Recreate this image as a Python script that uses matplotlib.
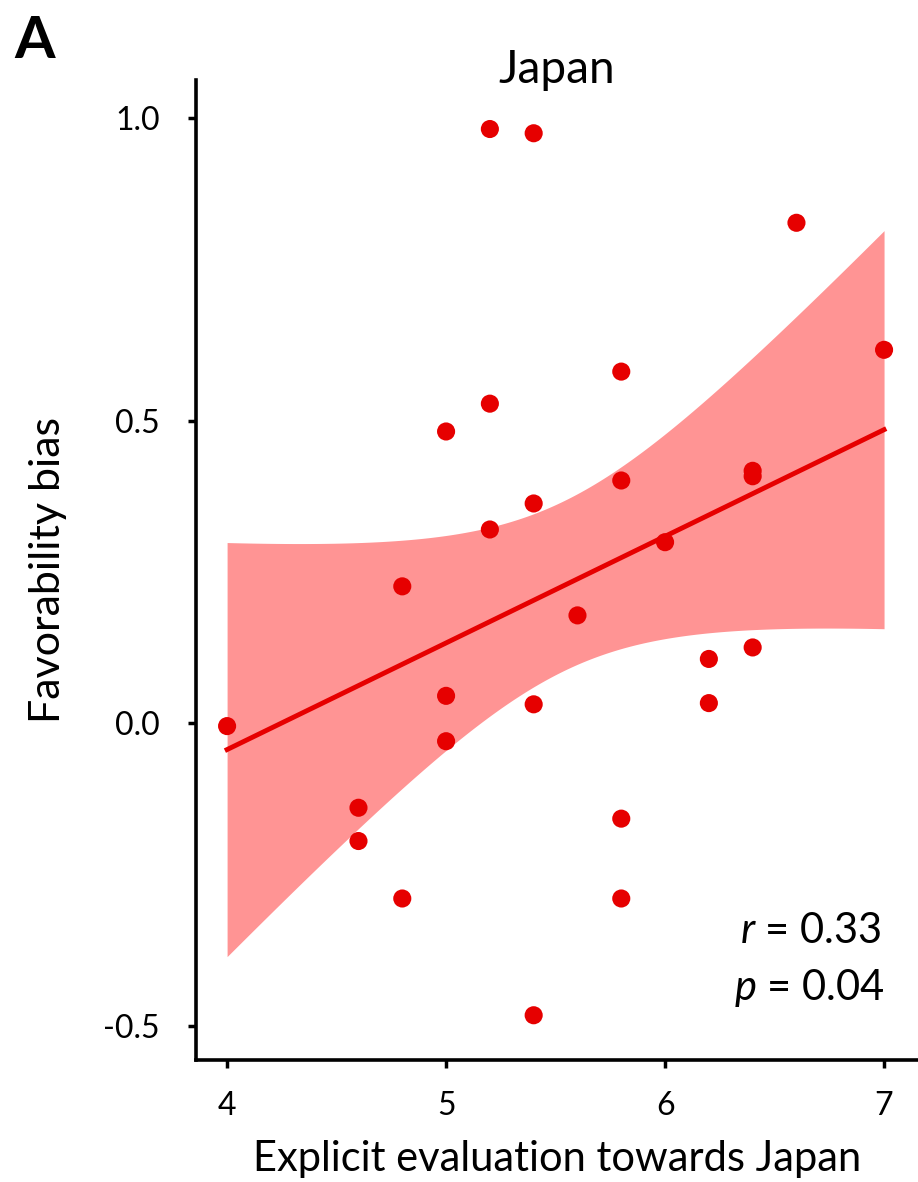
import matplotlib
matplotlib.use('Agg')
import matplotlib.pyplot as plt
import numpy as np

plt.rcParams['font.family'] = ['Lato', 'DejaVu Sans']
plt.rcParams['mathtext.fontset'] = 'custom'
plt.rcParams['mathtext.it'] = 'Lato:italic'
plt.rcParams['mathtext.rm'] = 'Lato'

# explicit evaluation (x) and favorability bias (y)
explicit = [4.0, 4.6, 4.6, 4.8, 4.8, 5.0, 5.0, 5.0, 5.2, 5.2, 5.2, 5.4, 5.4, 5.4,
            5.4, 5.6, 5.8, 5.8, 5.8, 5.8, 6.0, 6.2, 6.2, 6.4, 6.4, 6.4, 6.6, 7.0]
bias = [-0.005, -0.14, -0.195, 0.226, -0.29, 0.482, 0.045, -0.03, 0.982, 0.528, 0.32,
        0.975, 0.363, 0.031, -0.483, 0.178, 0.581, 0.401, -0.158, -0.29, 0.299,
        0.106, 0.033, 0.417, 0.408, 0.125, 0.827, 0.617]
xticks = [4, 5, 6, 7]
yticks = [-0.5, 0.0, 0.5, 1.0]
ytick_labels = ['-0.5', '0.0', '0.5', '1.0']

x = np.array(explicit)
y = np.array(bias)

# linear fit with 95% CI of the mean
n = len(x)
slope, icpt = np.polyfit(x, y, 1)
grid = np.linspace(x.min(), x.max(), 200)
fit = icpt + slope * grid
resid = y - (icpt + slope * x)
s = np.sqrt(np.sum(resid ** 2) / (n - 2))
tval = 2.056  # t(0.975, 26)
se = s * np.sqrt(1 / n + (grid - x.mean()) ** 2 / np.sum((x - x.mean()) ** 2))

fig = plt.figure(figsize=(9.18, 11.82), dpi=100)
ax = fig.add_axes([0.2135, 0.1032, 0.7865, 0.8291])

ax.fill_between(grid, fit - tval * se, fit + tval * se, color='#FF9494', lw=0, zorder=1)
ax.plot(grid, fit, color='#E60000', lw=3.5, zorder=2)
ax.scatter(x, y, s=170, color='#E60000', edgecolor='none', zorder=3)

ax.set_xlim(3.858, 7.155)
ax.set_ylim(-0.557, 1.063)
ax.set_xticks(xticks)
ax.set_yticks(yticks)
ax.set_yticklabels(ytick_labels)
ax.tick_params(labelsize=23, width=2.5, length=6, colors='black')
ax.tick_params(axis='x', pad=16)
ax.tick_params(axis='y', pad=20)
for side in ['top', 'right']:
    ax.spines[side].set_visible(False)
for side in ['left', 'bottom']:
    ax.spines[side].set_linewidth(2.6)

ax.set_xlabel('Explicit evaluation towards Japan', fontsize=30, va='baseline')
ax.xaxis.set_label_coords(0.5, -0.113)
ax.set_ylabel('Favorability bias', fontsize=31, labelpad=26)
ax.text(0.5, 0.997, 'Japan', transform=ax.transAxes, ha='center', va='baseline', fontsize=33)

ax.text(0.95, 0.1194, r'$\it{r}$ = 0.33', transform=ax.transAxes, ha='right', va='baseline', fontsize=30)
ax.text(0.954, 0.0612, r'$\it{p}$ = 0.04', transform=ax.transAxes, ha='right', va='baseline', fontsize=30)

fig.text(0.016, 0.951, 'A', fontsize=42, fontweight='bold', va='baseline')

fig.savefig('out.png', dpi=100)
